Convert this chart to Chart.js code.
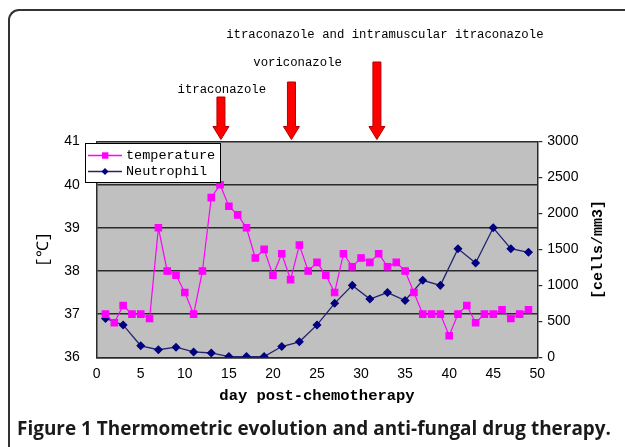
<!DOCTYPE html>
<html><head><meta charset="utf-8">
<script src="https://cdn.jsdelivr.net/npm/chart.js@4"></script>
<style>
html,body{margin:0;padding:0;background:#fff;}
#wrap{position:relative;width:625px;height:447px;overflow:hidden;background:#fff;}
#frame{position:absolute;left:8px;top:9px;width:700px;height:500px;border-left:2px solid #333;border-top:2px solid #333;border-top-left-radius:11px;box-sizing:border-box;}
canvas{position:absolute;left:0;top:0;}
#caption{position:absolute;left:17px;top:417px;font:bold 19px "Open Sans","Noto Sans",sans-serif;color:#1a1a1a;white-space:nowrap;line-height:22px;transform-origin:0 50%;}
</style></head><body>
<div id="wrap"><div id="frame"></div><canvas id="c" width="625" height="447"></canvas><div id="caption">Figure 1 Thermometric evolution and anti-fungal drug therapy.</div></div>
<script>
// ---- data ----
const tempDays = [1,2,3,4,5,6,7,8,9,10,11,12,13,14,15,16,17,18,19,20,21,22,23,24,25,26,27,28,29,30,31,32,33,34,35,36,37,38,39,40,41,42,43,44,45,46,47,48,49];
const temperature = [37.0,36.8,37.2,37.0,37.0,36.9,39.0,38.0,37.9,37.5,37.0,38.0,39.7,40.0,39.5,39.3,39.0,38.3,38.5,37.9,38.4,37.8,38.6,38.0,38.2,37.9,37.5,38.4,38.1,38.3,38.2,38.4,38.1,38.2,38.0,37.5,37.0,37.0,37.0,36.5,37.0,37.2,36.8,37.0,37.0,37.1,36.9,37.0,37.1];
const neutroDays = [1,3,5,7,9,11,13,15,17,19,21,23,25,27,29,31,33,35,37,39,41,43,45,47,49];
const neutrophil = [540,450,160,105,140,75,60,10,10,10,150,215,450,750,1000,810,900,790,1070,1000,1510,1310,1800,1510,1460];
const xTicks = [0,5,10,15,20,25,30,35,40,45,50];
const tempTicks = [36,37,38,39,40,41];
const neutroTicks = [0,500,1000,1500,2000,2500,3000];
const drugNames = ['itraconazole','voriconazole','itraconazole and intramuscular itraconazole'];
const drugDays = [14.1, 22.1, 31.8];
const drugLabelDays = [14.2, 22.8, 32.7];

// ---- style ----
const arrowTops = [97, 82, 62];
const labelYs = [90, 63, 35];
const MONO = '"Liberation Mono","DejaVu Sans Mono",monospace';

Chart.defaults.color = '#000';
Chart.defaults.font.family = '"Liberation Sans", Arial, sans-serif';

const toXY = (xs, ys) => xs.map((x, i) => ({x, y: ys[i]}));

const deco = {
  id: 'deco',
  beforeDraw(chart) {
    const {ctx, chartArea: a} = chart;
    ctx.save();
    ctx.fillStyle = '#C0C0C0';
    ctx.fillRect(a.left, a.top, a.right - a.left, a.bottom - a.top);
    ctx.restore();
  },
  afterDraw(chart) {
    const {ctx, chartArea: a, scales} = chart;
    ctx.save();
    drugDays.forEach((d, i) => {
      const x = scales.x.getPixelForValue(d);
      const top = arrowTops[i], tip = a.top - 2;
      const sw = 4, hw = 8, hh = 13;
      ctx.beginPath();
      ctx.moveTo(x - sw, top); ctx.lineTo(x + sw, top); ctx.lineTo(x + sw, tip - hh);
      ctx.lineTo(x + hw, tip - hh); ctx.lineTo(x, tip); ctx.lineTo(x - hw, tip - hh);
      ctx.lineTo(x - sw, tip - hh); ctx.closePath();
      ctx.fillStyle = '#ff0000'; ctx.fill();
      ctx.strokeStyle = '#b00000'; ctx.lineWidth = 1; ctx.stroke();
      ctx.font = '12.3px ' + MONO; ctx.fillStyle = '#000';
      ctx.textAlign = 'center'; ctx.textBaseline = 'middle';
      ctx.fillText(drugNames[i], scales.x.getPixelForValue(drugLabelDays[i]), labelYs[i]);
    });
    const lx = 85, ly = 143, lw = 135, lh = 39;
    ctx.fillStyle = '#fff'; ctx.fillRect(lx, ly, lw, lh);
    ctx.strokeStyle = '#000'; ctx.lineWidth = 1; ctx.strokeRect(lx + 0.5, ly + 0.5, lw, lh);
    chart.data.datasets.forEach((ds, i) => {
      const y = ly + 12.5 + i * 16;
      ctx.strokeStyle = ds.borderColor; ctx.lineWidth = 1.3;
      ctx.beginPath(); ctx.moveTo(lx + 3, y); ctx.lineTo(lx + 37, y); ctx.stroke();
      ctx.fillStyle = ds.pointBackgroundColor;
      ctx.beginPath();
      if (ds.pointStyle === 'rect') { ctx.rect(lx + 17, y - 3.2, 6.4, 6.4); }
      else { ctx.moveTo(lx + 20, y - 3.5); ctx.lineTo(lx + 23.5, y); ctx.lineTo(lx + 20, y + 3.5); ctx.lineTo(lx + 16.5, y); ctx.closePath(); }
      ctx.fill();
      ctx.fillStyle = '#000'; ctx.font = '13.5px ' + MONO;
      ctx.textAlign = 'left'; ctx.textBaseline = 'middle';
      ctx.fillText(ds.label, lx + 41, y);
    });
    const cy = (a.top + a.bottom) / 2;
    ctx.fillStyle = '#000'; ctx.textAlign = 'center'; ctx.textBaseline = 'middle';
    ctx.save(); ctx.translate(44, cy); ctx.rotate(-Math.PI / 2);
    ctx.font = '16px ' + MONO; ctx.fillText('[℃]', 0, 0); ctx.restore();
    ctx.save(); ctx.translate(598, cy); ctx.rotate(-Math.PI / 2);
    ctx.font = 'bold 15px ' + MONO; ctx.fillText('[cells/mm3]', 0, 0); ctx.restore();
    ctx.restore();
  }
};

const GRID = '#2a2a2a';
const plain = v => String(v);
new Chart(document.getElementById('c'), {
  type: 'line',
  data: {
    datasets: [
      { label: 'temperature', data: toXY(tempDays, temperature), yAxisID: 'y',
        borderColor: '#ff00ff', backgroundColor: '#ff00ff', pointBackgroundColor: '#ff00ff',
        pointBorderColor: '#ff00ff', borderWidth: 1.2, pointStyle: 'rect', pointRadius: 4.5, tension: 0 },
      { label: 'Neutrophil', data: toXY(neutroDays, neutrophil), yAxisID: 'y1',
        borderColor: '#232370', backgroundColor: '#000080', pointBackgroundColor: '#000080',
        pointBorderColor: '#000080', borderWidth: 1.3, pointStyle: 'rectRot', pointRadius: 3.6, tension: 0 }
    ]
  },
  options: {
    responsive: false, animation: false, devicePixelRatio: 1,
    layout: { padding: { top: 141.5, left: 0, right: 0, bottom: 39.7 } },
    plugins: { legend: { display: false }, tooltip: { enabled: false } },
    scales: {
      x: { type: 'linear', min: 0, max: 50,
        afterBuildTicks: s => { s.ticks = xTicks.map(v => ({value: v})); },
        afterFit: s => { s.height = 50; },
        grid: { display: false, drawTicks: false },
        border: { display: true, color: GRID, width: 1.5 },
        ticks: { padding: 8, font: { size: 14 }, callback: plain },
        title: { display: true, text: 'day post-chemotherapy', padding: { top: 4, bottom: 2 },
          font: { family: MONO, size: 15.5, weight: 'bold' } } },
      y: { position: 'left', min: 36, max: 41,
        afterBuildTicks: s => { s.ticks = tempTicks.map(v => ({value: v})); },
        afterFit: s => { s.width = 96.7; },
        grid: { color: GRID, lineWidth: 1.5, drawTicks: false },
        border: { display: true, color: GRID, width: 1.5 },
        ticks: { padding: 17, font: { size: 14 }, callback: plain } },
      y1: { position: 'right', min: 0, max: 3000,
        afterBuildTicks: s => { s.ticks = neutroTicks.map(v => ({value: v})); },
        afterFit: s => { s.width = 87.7; },
        grid: { drawOnChartArea: false, color: GRID, lineWidth: 1.2, tickLength: 5 },
        border: { display: true, color: GRID, width: 1.5 },
        ticks: { padding: 5, font: { size: 14 }, callback: plain } }
    }
  },
  plugins: [deco]
});
// fit caption to its width in the reference
const cap = document.getElementById('caption');
const w = cap.getBoundingClientRect().width;
if (w > 0) cap.style.transform = 'scaleX(' + (594 / w) + ')';
</script>
</body></html>
